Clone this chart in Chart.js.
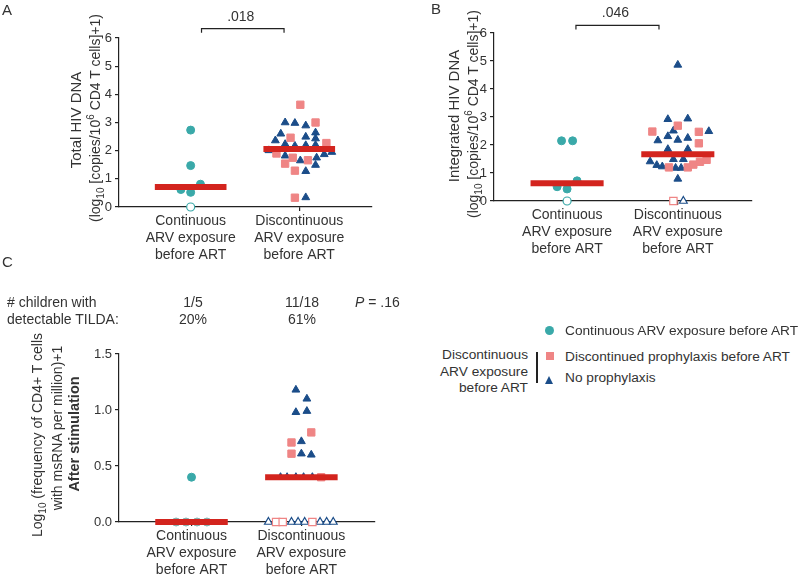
<!DOCTYPE html>
<html>
<head>
<meta charset="utf-8">
<script src="https://cdn.jsdelivr.net/npm/chart.js@4.4.0/dist/chart.umd.min.js"></script>
<style>
  body { margin: 0; background: #fff; }
  #wrap { position: relative; width: 800px; height: 582px; font-family: "Liberation Sans", Arial, sans-serif; color: #333; overflow: hidden; }
  canvas { position: absolute; }
  .t { position: absolute; font-size: 14px; line-height: 16px; white-space: nowrap; }
  .lg { font-size: 13.7px; }
  .c { text-align: center; width: 80px; }
  .rot { position: absolute; font-size: 14px; line-height: 18px; height: 18px; width: 300px; text-align: center; white-space: nowrap; transform: rotate(-90deg); }
  sub, sup { font-size: 10px; line-height: 0; }
  .mk { position: absolute; }
</style>
</head>
<body>
<div id="wrap">
  <canvas id="chartA" width="400" height="290" style="left:0;top:0"></canvas>
  <canvas id="chartB" width="400" height="290" style="left:400px;top:0"></canvas>
  <canvas id="chartC" width="400" height="292" style="left:0;top:290px"></canvas>

  <div class="t" style="left:2px;top:2px;font-size:15px">A</div>
  <div class="t" style="left:431px;top:1px;font-size:15px">B</div>
  <div class="t" style="left:2px;top:254px;font-size:15px">C</div>

  <div class="rot" style="left:-74px;top:111px;font-size:15px">Total HIV DNA</div>
  <div class="rot" style="left:-55px;top:109px">(log<sub>10</sub> [copies/10<sup>6</sup> CD4 T cells]+1)</div>
  <div class="rot" style="left:304px;top:107px;font-size:15px">Integrated HIV DNA</div>
  <div class="rot" style="left:323px;top:105px">(log<sub>10</sub> [copies/10<sup>6</sup> CD4 T cells]+1)</div>
  <div class="rot" style="left:-113px;top:426px">Log<sub>10</sub> (frequency of CD4+ T cells</div>
  <div class="rot" style="left:-93px;top:419px">with msRNA per million)+1</div>
  <div class="rot" style="left:-76px;top:425px;font-weight:bold;font-size:14.5px">After stimulation</div>

  <div class="t" style="left:7px;top:294px"># children with</div>
  <div class="t" style="left:7px;top:311px">detectable TILDA:</div>
  <div class="t c" style="left:153px;top:294px">1/5</div>
  <div class="t c" style="left:153px;top:311px">20%</div>
  <div class="t c" style="left:262px;top:294px">11/18</div>
  <div class="t c" style="left:262px;top:311px">61%</div>
  <div class="t" style="left:355px;top:294px"><i>P</i> = .16</div>

  <div class="mk" style="left:545px;top:326px;width:9px;height:9px;border-radius:50%;background:#3aa9a9"></div>
  <div class="t lg" style="left:565px;top:323px">Continuous ARV exposure before ART</div>
  <div class="mk" style="left:546px;top:352px;width:8px;height:8px;background:#ef8585"></div>
  <div class="t lg" style="left:565px;top:349px">Discontinued prophylaxis before ART</div>
  <div class="mk" style="left:545px;top:376px;width:0;height:0;border-left:4.5px solid transparent;border-right:4.5px solid transparent;border-bottom:8px solid #1b4d89"></div>
  <div class="t lg" style="left:565px;top:370px">No prophylaxis</div>
  <div class="t lg" style="left:428px;top:347px;width:100px;text-align:right;line-height:16.5px">Discontinuous<br>ARV exposure<br>before ART</div>
  <div class="mk" style="left:536px;top:352px;width:2px;height:31px;background:#222"></div>
</div>

<script>
// categories and tick labels
const categories = [['Continuous', 'ARV exposure', 'before ART'], ['Discontinuous', 'ARV exposure', 'before ART']];
const yTicksDNA = [0, 1, 2, 3, 4, 5, 6];
const yTicksTilda = [0, 0.5, 1, 1.5];

// Panel A - total HIV DNA, [x (category + jitter), y]
const aContinuous = [[1.00, 2.73], [1.00, 1.47], [1.09, 0.81], [0.91, 0.62], [1.00, 0.52]];
const aContinuousOpen = [[1.00, 0]];
const aDiscProphylaxis = [[2.01, 3.63], [2.15, 3.00], [1.92, 2.46], [2.25, 2.27], [1.79, 1.90], [1.94, 1.75], [2.08, 1.66], [1.87, 1.54], [1.96, 1.29], [1.96, 0.33]];
const aNoProphylaxis = [[1.87, 3.00], [1.96, 2.98], [2.06, 2.89], [1.83, 2.60], [2.15, 2.64], [2.06, 2.49], [1.78, 2.36], [2.15, 2.43], [1.87, 2.23], [2.06, 2.19], [2.15, 2.20], [1.96, 2.17], [1.72, 2.01], [2.30, 1.95], [2.23, 1.87], [1.87, 1.82], [2.16, 1.75], [2.01, 1.65], [2.15, 1.49], [2.06, 1.27], [2.06, 0.34]];
const aMedians = [0.71, 2.06];

// Panel B - integrated HIV DNA
const bContinuous = [[0.95, 2.15], [1.05, 2.15], [1.09, 0.72], [0.91, 0.51], [1.00, 0.43]];
const bContinuousOpen = [[1.00, 0]];
const bDiscProphylaxis = [[2.00, 2.69], [1.77, 2.48], [2.19, 2.47], [2.19, 2.06], [1.92, 1.20], [2.09, 1.20], [2.14, 1.30], [2.20, 1.40], [2.26, 1.47]];
const bDiscProphylaxisOpen = [[1.96, 0]];
const bNoProphylaxis = [[2.00, 4.86], [1.91, 2.92], [2.09, 2.94], [1.96, 2.51], [2.28, 2.49], [1.91, 2.31], [2.00, 2.18], [1.82, 2.16], [2.09, 2.25], [1.91, 1.85], [2.09, 1.85], [1.75, 1.41], [1.81, 1.28], [1.86, 1.23], [1.96, 1.49], [2.05, 1.49], [1.98, 1.18], [2.03, 1.18], [2.00, 0.79]];
const bNoProphylaxisOpen = [[2.05, 0]];
const bMedians = [0.63, 1.67];

// Panel C - TILDA after stimulation
const cContinuous = [[1.00, 0.40]];
const cContinuousZero = [[0.86, 0], [0.95, 0], [1.05, 0], [1.14, 0]];
const cDiscProphylaxis = [[2.09, 0.80], [1.91, 0.71], [1.91, 0.61], [2.18, 0.40]];
const cDiscProphylaxisOpen = [[1.77, 0], [1.83, 0], [2.10, 0]];
const cNoProphylaxis = [[1.95, 1.18], [2.05, 1.10], [1.95, 0.98], [2.05, 0.99], [2.00, 0.72], [2.00, 0.61], [2.09, 0.60], [1.81, 0.40], [1.87, 0.40], [1.95, 0.40], [2.02, 0.40], [2.10, 0.40]];
const cNoProphylaxisOpen = [[1.70, 0], [1.91, 0], [1.97, 0], [2.03, 0], [2.17, 0], [2.23, 0], [2.29, 0]];
const cMedians = [0, 0.40];

const TEAL = '#3aa9a9', TEAL_GREY = '#86b0b0', PINK = '#ef8585', NAVY = '#1b4d89', RED = '#d3241e', AXIS = '#222', TEXT = '#333';
const FONT = '"Liberation Sans", Arial, sans-serif';

const pts = arr => arr.map(([x, y]) => ({ x, y }));

function circles(arr, color, open) {
  return { data: pts(arr), pointStyle: 'circle', pointRadius: 4, backgroundColor: open ? '#fff' : color, borderColor: color, borderWidth: open ? 1.2 : 1, clip: false, order: 1 };
}
function squares(arr, open) {
  return { data: pts(arr), pointStyle: 'rect', pointRadius: 5.2, backgroundColor: open ? '#fff' : PINK, borderColor: PINK, borderWidth: open ? 1.2 : 1, clip: false, order: 1 };
}
function triangles(arr, open) {
  return { data: pts(arr), pointStyle: 'triangle', pointRadius: 4.5, backgroundColor: open ? '#fff' : NAVY, borderColor: NAVY, borderWidth: open ? 1.2 : 1, clip: false, order: 1 };
}
function medianLines(medians) {
  // horizontal median bar centred on each category
  return medians.map((m, i) => ({
    type: 'line', data: [{ x: i + 1 - 0.33, y: m }, { x: i + 1 + 0.33, y: m }],
    borderColor: RED, borderWidth: 6, borderCapStyle: 'butt', pointRadius: 0, clip: false, order: 0
  }));
}

// significance bracket above the plot
const bracketPlugin = {
  id: 'bracket',
  afterDraw(chart, args, opts) {
    if (!opts || opts.label == null) return;
    const { ctx } = chart;
    const x = chart.scales.x, y = chart.scales.y;
    const x1 = x.getPixelForValue(opts.from), x2 = x.getPixelForValue(opts.to);
    const yt = y.getPixelForValue(opts.at);
    ctx.save();
    ctx.strokeStyle = AXIS; ctx.lineWidth = 1.2;
    ctx.beginPath();
    ctx.moveTo(x1, yt + 4); ctx.lineTo(x1, yt); ctx.lineTo(x2, yt); ctx.lineTo(x2, yt + 4);
    ctx.stroke();
    ctx.fillStyle = TEXT; ctx.font = '14px ' + FONT; ctx.textAlign = 'center'; ctx.textBaseline = 'middle';
    ctx.fillText(opts.label, (x1 + x2) / 2 - 2, yt - 12);
    ctx.restore();
  }
};

function makePanel(id, o) {
  return new Chart(document.getElementById(id), {
    type: 'scatter',
    data: { datasets: medianLines(o.medians).concat(o.sets) },
    plugins: o.bracket ? [bracketPlugin] : [],
    options: {
      responsive: false,
      animation: false,
      events: [],
      layout: { padding: o.pad },
      plugins: { legend: { display: false }, tooltip: { enabled: false }, bracket: o.bracket || {} },
      scales: {
        x: {
          type: 'linear', min: 0.34, max: 2.67,
          afterBuildTicks: s => { s.ticks = [{ value: 1 }, { value: 2 }]; },
          afterFit: s => { s.height = o.xH; },
          ticks: { callback: v => categories[Math.round(v) - 1], font: { family: FONT, size: 14 }, color: TEXT, maxRotation: 0, autoSkip: false, padding: 2 },
          grid: { drawOnChartArea: false, tickLength: 4, color: AXIS, lineWidth: 1.2 },
          border: { color: AXIS, width: 1.2 }
        },
        y: {
          min: 0, max: o.yTicks[o.yTicks.length - 1],
          afterBuildTicks: s => { s.ticks = o.yTicks.map(v => ({ value: v })); },
          afterFit: s => { s.width = 40; },
          ticks: { callback: o.fmt, font: { family: FONT, size: 13 }, color: TEXT, padding: 3 },
          grid: { drawOnChartArea: false, tickLength: 4, color: AXIS, lineWidth: 1.2 },
          border: { color: AXIS, width: 1.2 }
        }
      }
    }
  });
}

makePanel('chartA', {
  medians: aMedians, yTicks: yTicksDNA, fmt: v => String(v), xH: 60,
  pad: { left: 79, top: 38, right: 28, bottom: 23 },
  bracket: { from: 1.1, to: 1.86, at: 6.33, label: '.018' },
  sets: [circles(aContinuous, TEAL), circles(aContinuousOpen, TEAL, true), squares(aDiscProphylaxis), triangles(aNoProphylaxis)]
});

makePanel('chartB', {
  medians: bMedians, yTicks: yTicksDNA, fmt: v => String(v), xH: 60,
  pad: { left: 54, top: 33, right: 48, bottom: 29 },
  bracket: { from: 1.08, to: 1.83, at: 6.27, label: '.046' },
  sets: [circles(bContinuous, TEAL), circles(bContinuousOpen, TEAL, true), squares(bDiscProphylaxis), squares(bDiscProphylaxisOpen, true), triangles(bNoProphylaxis), triangles(bNoProphylaxisOpen, true)]
});

makePanel('chartC', {
  medians: cMedians, yTicks: yTicksTilda, fmt: v => v.toFixed(1), xH: 58,
  pad: { left: 79, top: 64, right: 25, bottom: 2 },
  sets: [circles(cContinuous, TEAL), circles(cContinuousZero, TEAL_GREY), squares(cDiscProphylaxis), squares(cDiscProphylaxisOpen, true), triangles(cNoProphylaxis), triangles(cNoProphylaxisOpen, true)]
});
</script>
</body>
</html>
